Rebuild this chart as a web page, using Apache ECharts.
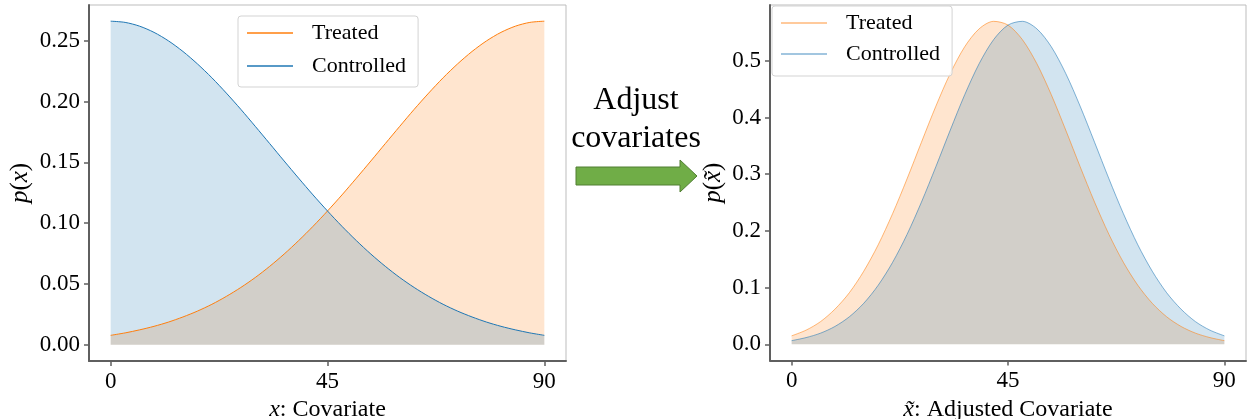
<!DOCTYPE html>
<html>
<head>
<meta charset="utf-8">
<script src="https://cdn.jsdelivr.net/npm/echarts@6/dist/echarts.min.js"></script>
<style>
html,body{margin:0;padding:0;background:#fff;}
#c{width:1248px;height:419px;}
</style>
</head>
<body>
<div id="c"></div>
<script>
// ---- data ----
var xs = [0,3,6,9,12,15,18,21,24,27,30,33,36,39,42,45,48,51,54,57,60,63,66,69,72,75,78,81,84,87,90];
var leftControlled = [0.2660,0.2650,0.2619,0.2568,0.2498,0.2411,0.2309,0.2195,0.2069,0.1936,0.1796,0.1654,0.1511,0.1370,0.1232,0.1100,0.0974,0.0856,0.0746,0.0645,0.0553,0.0471,0.0398,0.0333,0.0277,0.0229,0.0187,0.0152,0.0123,0.0098,0.0078];
var leftTreated = [0.0078,0.0098,0.0123,0.0152,0.0187,0.0229,0.0277,0.0333,0.0398,0.0471,0.0553,0.0645,0.0746,0.0856,0.0974,0.1100,0.1232,0.1370,0.1511,0.1654,0.1796,0.1936,0.2069,0.2195,0.2309,0.2411,0.2498,0.2568,0.2619,0.2650,0.2660];
var rightTreated = [0.0150,0.0250,0.0400,0.0620,0.0910,0.1290,0.1755,0.2305,0.2918,0.3565,0.4201,0.4779,0.5249,0.5565,0.5697,0.5631,0.5373,0.4950,0.4403,0.3780,0.3134,0.2509,0.1938,0.1446,0.1042,0.0724,0.0486,0.0315,0.0197,0.0119,0.0065];
var rightControlled = [0.0065,0.0119,0.0197,0.0315,0.0486,0.0724,0.1042,0.1446,0.1938,0.2509,0.3134,0.3780,0.4403,0.4950,0.5373,0.5631,0.5697,0.5565,0.5249,0.4779,0.4201,0.3565,0.2918,0.2305,0.1755,0.1290,0.0910,0.0620,0.0400,0.0250,0.0150];
var xTicks = [0,45,90];
var leftYTicks = [0,0.05,0.10,0.15,0.20,0.25];
var rightYTicks = [0,0.1,0.2,0.3,0.4,0.5];
var seriesNames = ['Treated','Controlled'];
var midText = ['Adjust','covariates'];

// ---- styling ----
var SERIF = '"Liberation Serif","Times New Roman",serif';
var ORANGE = '#ff7f0e', BLUE = '#1f77b4';
var ORANGE_FILL = 'rgba(255,127,14,0.2)', BLUE_FILL = 'rgba(31,119,180,0.2)';
var ORANGE_SOFT = 'rgba(255,127,14,0.55)', BLUE_SOFT = 'rgba(31,119,180,0.55)';
var SPINE = '#5f5f5f';

function pairs(arr){ return xs.map(function(x,i){ return [x, arr[i]]; }); }

function xAxisDef(gi, nameRich){
  return {
    gridIndex: gi, type:'value', min:-4.5, max:94.5,
    name: nameRich, nameLocation:'middle', nameGap: 31,
    nameTextStyle:{fontFamily:SERIF, fontSize:24, color:'#000',
      rich:{i:{fontFamily:SERIF, fontStyle:'italic', fontSize:24, color:'#000'}, n:{fontFamily:SERIF, fontSize:24, color:'#000'}}},
    axisLine:{show:true, onZero:false, lineStyle:{color:SPINE, width:2}},
    axisTick:{show:true, inside:false, length:5, customValues:xTicks, lineStyle:{color:SPINE, width:1.5}},
    axisLabel:{customValues:xTicks, margin:9, fontFamily:SERIF, fontSize:23, color:'#000'},
    splitLine:{show:false}
  };
}
function yAxisDef(gi, mn, mx, ticks, dec, nameRich, gap){
  return {
    gridIndex: gi, type:'value', min:mn, max:mx,
    name: nameRich, nameLocation:'middle', nameGap: gap, nameRotate:90,
    nameTextStyle:{fontFamily:SERIF, fontSize:25, color:'#000',
      rich:{i:{fontFamily:SERIF, fontStyle:'italic', fontSize:25, color:'#000'}, n:{fontFamily:SERIF, fontSize:25, color:'#000'}}},
    axisLine:{show:true, onZero:false, lineStyle:{color:SPINE, width:2}},
    axisTick:{show:true, inside:false, length:5, customValues:ticks, lineStyle:{color:SPINE, width:1.5}},
    axisLabel:{customValues:ticks, margin:9, fontFamily:SERIF, fontSize:23, color:'#000',
      formatter:function(v){ return Number(v).toFixed(dec); }},
    splitLine:{show:false}
  };
}
function areaSeries(name, gi, data, fill, z){
  return {name:name, type:'line', xAxisIndex:gi, yAxisIndex:gi, data:pairs(data),
    smooth:0.3, showSymbol:false, symbol:'none', silent:true, z:z,
    lineStyle:{width:0, color:'rgba(0,0,0,0)'}, areaStyle:{color:fill, opacity:1}};
}
function lineSeries(name, gi, data, color, z){
  return {name:name, type:'line', xAxisIndex:gi, yAxisIndex:gi, data:pairs(data),
    smooth:0.3, showSymbol:false, symbol:'none', z:z, itemStyle:{color:color},
    lineStyle:{width:1, color:color}};
}
function legendDef(gi, left, top, cols, pad, gap){
  return {
    orient:'vertical', left:left, top:top, padding:pad, itemGap:gap,
    itemWidth:46, itemHeight:1.5, icon:'rect', textStyle:{fontFamily:SERIF, fontSize:22, color:'#000', padding:[0,0,0,14]},
    borderColor:'#d3d3d3', borderWidth:1, borderRadius:3, backgroundColor:'rgba(255,255,255,0.85)',
    data: seriesNames.map(function(n,i){ return {name:n + (gi? ' ' : ''), itemStyle:{color:cols[i]}}; }),
    formatter:function(n){ return n.trim(); }
  };
}

var chart = echarts.init(document.getElementById('c'), null, {renderer:'canvas'});
chart.setOption({
  animation:false,
  backgroundColor:'#fff',
  grid:[
    {left:89, top:5, width:477, height:356, containLabel:false, outerBoundsMode:'none', show:true, borderColor:'#bdbdbd', borderWidth:1, backgroundColor:'transparent'},
    {left:770, top:5, width:476, height:355.5, containLabel:false, outerBoundsMode:'none', show:true, borderColor:'#bdbdbd', borderWidth:1, backgroundColor:'transparent'}
  ],
  xAxis:[
    xAxisDef(0, '{i|x}{n|: Covariate}'),
    xAxisDef(1, '{i|x\u0303}{n|: Adjusted Covariate}')
  ],
  yAxis:[
    yAxisDef(0, -0.0133, 0.2793, leftYTicks, 2, '{n|}{i|p}{n|(}{i|x}{n|)}', 56),
    yAxisDef(1, -0.0285, 0.5985, rightYTicks, 1, '{n|}{i|p}{n|(}{i|x\u0303}{n|)}', 44)
  ],
  legend:[
    legendDef(0, 238, 16, [ORANGE, BLUE], [6,12,10,9], 11),
    legendDef(1, 772, 6, [ORANGE_SOFT, BLUE_SOFT], [6,12,11,9], 9)
  ],
  series:[
    areaSeries('Treated fill', 0, leftTreated, ORANGE_FILL, 1),
    areaSeries('Controlled fill', 0, leftControlled, BLUE_FILL, 2),
    lineSeries('Treated', 0, leftTreated, ORANGE, 3),
    lineSeries('Controlled', 0, leftControlled, BLUE, 4),
    areaSeries('Treated fill ', 1, rightTreated, ORANGE_FILL, 1),
    areaSeries('Controlled fill ', 1, rightControlled, BLUE_FILL, 2),
    lineSeries('Treated ', 1, rightTreated, ORANGE_SOFT, 3),
    lineSeries('Controlled ', 1, rightControlled, BLUE_SOFT, 4)
  ],
  graphic:[
    {type:'text', x:636, y:101, style:{text:midText[0], font:'32px ' + SERIF, fill:'#000', align:'center', verticalAlign:'middle'}},
    {type:'text', x:636, y:139, style:{text:midText[1], font:'32px ' + SERIF, fill:'#000', align:'center', verticalAlign:'middle'}},
    {type:'polygon', shape:{points:[[576,167],[680,167],[680,160],[697,176],[680,192],[680,185],[576,185]]},
      style:{fill:'#70ad47', stroke:'#507e32', lineWidth:1}}
  ]
});
</script>
</body>
</html>
